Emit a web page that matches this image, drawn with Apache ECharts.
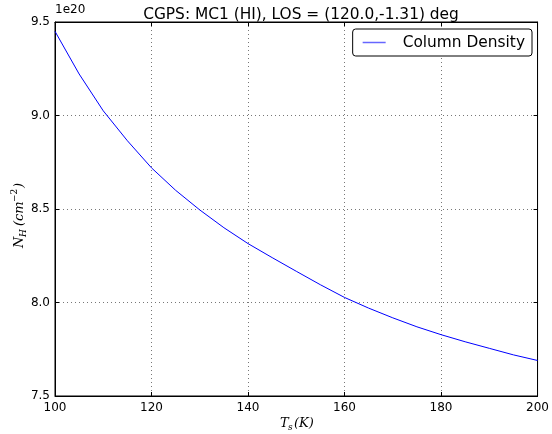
<!DOCTYPE html>
<html><head><meta charset="utf-8">
<script src="https://cdn.jsdelivr.net/npm/echarts@6/dist/echarts.min.js"></script>
<style>html,body{margin:0;padding:0;background:#fff}#c{width:552px;height:434px}</style>
</head><body><div id="c"></div>
<script>
var titleText = 'CGPS: MC1 (HI), LOS = (120.0,-1.31) deg';
var seriesName = 'Column Density';
var tsK = [100,105,110,115,120,125,130,135,140,145,150,155,160,165,170,175,180,185,190,195,200];
var nH = [9.45,9.222,9.025,8.865,8.72,8.60,8.495,8.40,8.315,8.24,8.167,8.095,8.027,7.97,7.918,7.87,7.828,7.79,7.755,7.72,7.69];
var xTicks = [100,120,140,160,180,200];
var yTicks = [7.5,8.0,8.5,9.0,9.5];
var expLabel = '1e20';

var pts = tsK.map(function(t,i){return [t,nH[i]];});
var chart = echarts.init(document.getElementById('c'));
var F = 'DejaVu Sans';
var S = 'DejaVu Serif';
var axisCommon = {
  axisLine:{show:true,lineStyle:{color:'#000',width:1}},
  axisTick:{show:true,inside:true,length:4,lineStyle:{color:'#000'}},
};
function t(txt,x,y,size,italic){
  return {type:'text',x:x,y:y,style:{text:txt,fontFamily:S,fontStyle:italic?'italic':'normal',fontSize:size,fill:'#000',textVerticalAlign:'middle',textAlign:'left'}};
}
chart.setOption({
  animation:false,
  backgroundColor:'#fff',
  title:{text:titleText,left:296,textAlign:'center',top:2,textStyle:{fontFamily:F,fontSize:15.4,fontWeight:'normal',color:'#000'}},
  grid:{left:55,right:14,top:22,bottom:38,show:true,borderColor:'#000',borderWidth:1},
  legend:{right:20,top:29,data:[seriesName],icon:'rect',itemWidth:23,itemHeight:1.5,itemGap:0,
    padding:[5,7,5,10],borderColor:'#000',borderWidth:1,borderRadius:3,backgroundColor:'#fff',
    textStyle:{fontFamily:F,fontSize:15.4,lineHeight:17,color:'#000',padding:[0,0,0,12]}},
  xAxis:[Object.assign({type:'value',min:xTicks[0],max:xTicks[xTicks.length-1],interval:20,
    axisLabel:{fontFamily:F,fontSize:12,color:'#000',margin:6},
    splitLine:{show:true,lineStyle:{color:'#777',type:[1,3],width:1}}},axisCommon),
    Object.assign({type:'value',position:'top',min:100,max:200,interval:20,axisLabel:{show:false},splitLine:{show:false}},axisCommon)],
  yAxis:[Object.assign({type:'value',min:yTicks[0],max:yTicks[yTicks.length-1],interval:0.5,
    axisLabel:{fontFamily:F,fontSize:12,color:'#000',margin:5,formatter:function(v){return v.toFixed(1);}},
    splitLine:{show:true,lineStyle:{color:'#777',type:[1,3],width:1}}},axisCommon),
    Object.assign({type:'value',position:'right',min:7.5,max:9.5,interval:0.5,axisLabel:{show:false},splitLine:{show:false}},axisCommon)],
  series:[{name:seriesName,type:'line',data:pts,showSymbol:false,symbol:'none',smooth:false,
    lineStyle:{color:'#0000ff',width:1},itemStyle:{color:'#6666ff'}}],
  graphic:[
    {type:'text',left:55,top:4,style:{text:expLabel,fontFamily:F,fontSize:12,fill:'#000'}},
    {type:'group',x:296,y:424,children:[
      t('T',-16,0,13,true), t('s',-8,4,9,true), t('(K)',-2,0,13,true)
    ]},
    {type:'group',x:20,y:214,rotation:Math.PI/2,children:[
      t('N',-34,0,13,true), t('H',-23,4,9,true), t('(cm',-12,0,13,true), t('−2',12,-5,9,false), t(')',26,0,13,true)
    ]}
  ]
});
</script></body></html>
